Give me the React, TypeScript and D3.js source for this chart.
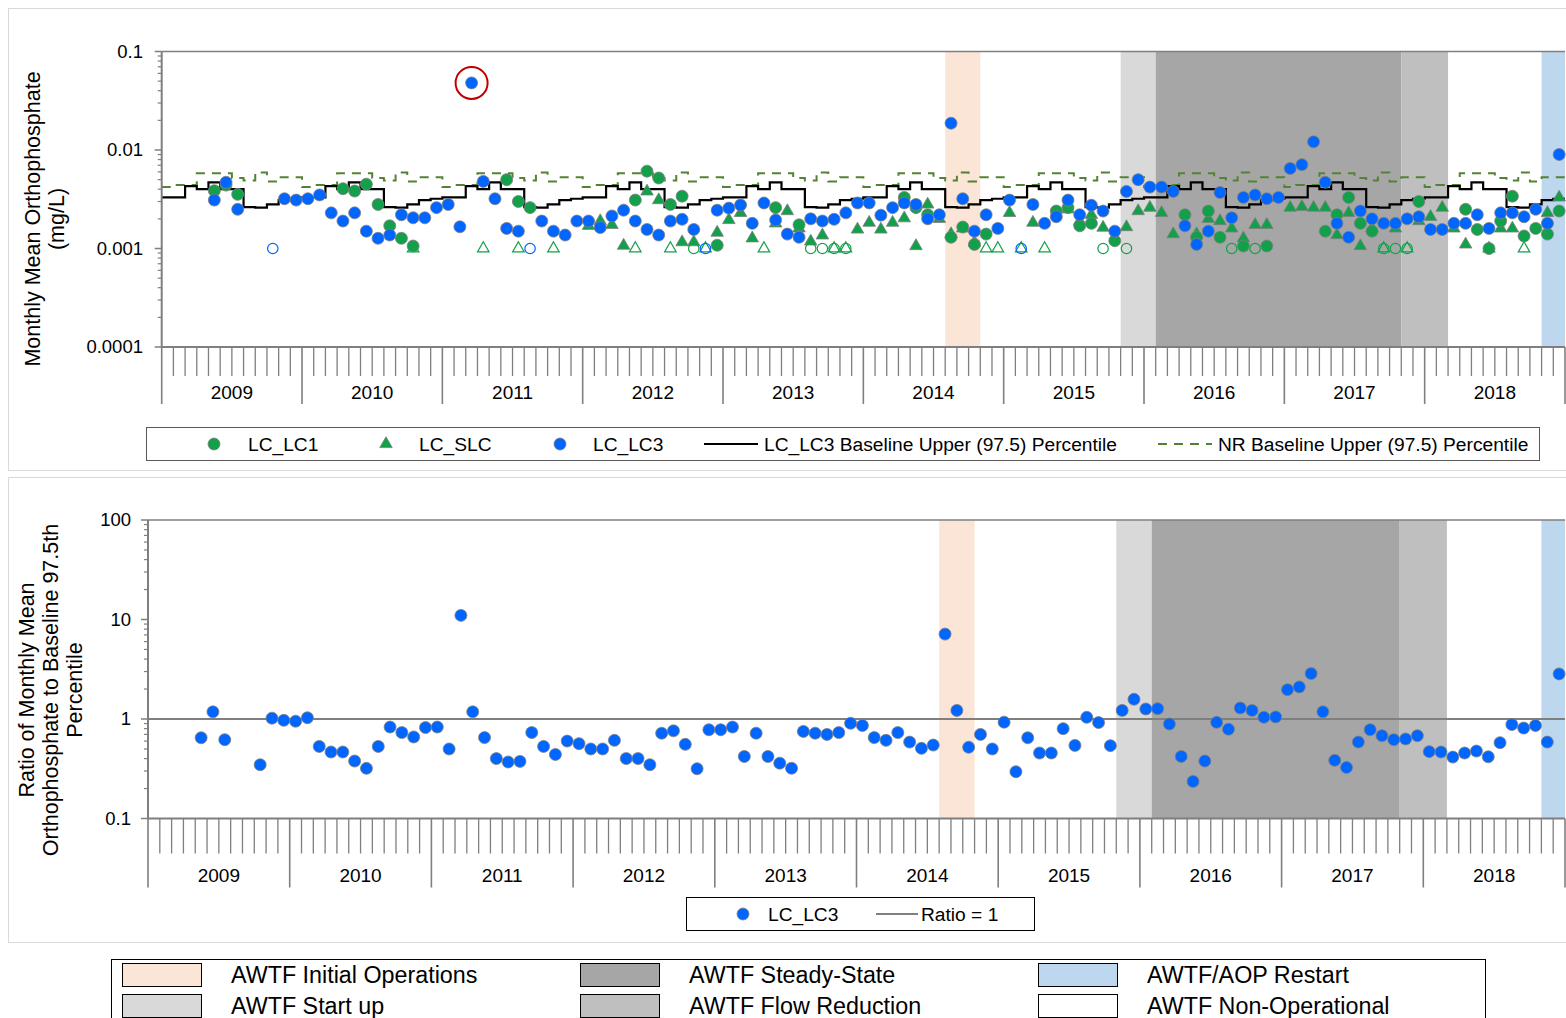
import React from 'react';
import * as d3 from 'd3';

// ---------- DATA ----------
const years = ['2009', '2010', '2011', '2012', '2013', '2014', '2015', '2016', '2017', '2018'];
const monthCount = 120; // Jan 2009 .. Dec 2018

// seasonal (Jan..Dec) baseline upper 97.5 percentiles
const lc3BaselineByMonth = [0.0033, 0.0033, 0.0043, 0.004, 0.0047, 0.004, 0.004, 0.00263, 0.0026, 0.0028, 0.0031, 0.0032];
const nrBaselineByMonth = [0.0042, 0.0044, 0.0044, 0.0058, 0.0058, 0.0058, 0.0052, 0.0049, 0.0059, 0.0048, 0.0053, 0.0053];

// [month index, mg/L]
const lc3Values: [number, number][] = [
  [4, 0.0031], [5, 0.0047], [6, 0.0025], [9, 0.001], [10, 0.0032], [11, 0.0031], [12, 0.0032], [13, 0.0035], [14, 0.0023], [15, 0.0019],
  [16, 0.0023], [17, 0.0015], [18, 0.00127], [19, 0.00137], [20, 0.0022], [21, 0.00205], [22, 0.00205], [23, 0.0026], [24, 0.0028], [25, 0.00166],
  [26, 0.048], [27, 0.0048], [28, 0.0032], [29, 0.0016], [30, 0.0015], [31, 0.001], [32, 0.0019], [33, 0.0015], [34, 0.00137], [35, 0.0019],
  [36, 0.0019], [37, 0.00163], [38, 0.00214], [39, 0.00245], [40, 0.0019], [41, 0.00156], [42, 0.00137], [43, 0.0019], [44, 0.00198], [45, 0.00156],
  [46, 0.001], [47, 0.00245], [48, 0.00257], [49, 0.00277], [50, 0.0018], [51, 0.0029], [52, 0.00195], [53, 0.0014], [54, 0.0013], [55, 0.002],
  [56, 0.0019], [57, 0.00198], [58, 0.0023], [59, 0.0029], [60, 0.0029], [61, 0.00218], [62, 0.0026], [63, 0.0029], [64, 0.0028], [65, 0.002],
  [66, 0.0022], [67, 0.0187], [68, 0.0032], [69, 0.0015], [70, 0.0022], [71, 0.0016], [72, 0.0031], [73, 0.001], [74, 0.0028], [75, 0.0018],
  [76, 0.0021], [77, 0.0031], [78, 0.0022], [79, 0.00275], [80, 0.0024], [81, 0.0015], [82, 0.0038], [83, 0.005], [84, 0.0042], [85, 0.0042],
  [86, 0.0038], [87, 0.0017], [88, 0.0011], [89, 0.0015], [90, 0.0037], [91, 0.00205], [92, 0.0033], [93, 0.0035], [94, 0.0032], [95, 0.0033],
  [96, 0.0065], [97, 0.0071], [98, 0.0121], [99, 0.0047], [100, 0.0018], [101, 0.0013], [102, 0.0024], [103, 0.002], [104, 0.0018], [105, 0.0018],
  [106, 0.002], [107, 0.0021], [108, 0.00156], [109, 0.00156], [110, 0.0018], [111, 0.0018], [112, 0.0022], [113, 0.0016], [114, 0.0023], [115, 0.0023],
  [116, 0.0021], [117, 0.0025], [118, 0.0018], [119, 0.009],
];
const lc3NonDetectMonths = [9, 31, 46, 73];

const lc1Values: [number, number][] = [
  [4, 0.00386], [5, 0.0044], [6, 0.00355], [15, 0.00405], [16, 0.00383], [17, 0.0045], [18, 0.0028], [19, 0.0017], [20, 0.00127], [21, 0.00106],
  [29, 0.005], [30, 0.003], [31, 0.0026], [40, 0.0031], [41, 0.0061], [42, 0.0052], [43, 0.0028], [44, 0.0034], [47, 0.00108], [52, 0.0026],
  [54, 0.00174], [63, 0.0033], [64, 0.0026], [65, 0.0022], [67, 0.0013], [68, 0.00165], [69, 0.0011], [70, 0.0014], [76, 0.0024], [77, 0.0026],
  [78, 0.0017], [79, 0.0018], [81, 0.0012], [87, 0.0022], [88, 0.0013], [89, 0.0024], [90, 0.0013], [92, 0.00106], [94, 0.00106], [99, 0.0015],
  [100, 0.0022], [101, 0.0033], [102, 0.0018], [103, 0.0015], [107, 0.003], [111, 0.0025], [112, 0.00156], [113, 0.001], [114, 0.0019], [115, 0.0034],
  [116, 0.00134], [117, 0.0016], [118, 0.0014], [119, 0.0024],
];
const lc1NonDetectMonths = [45, 55, 56, 57, 58, 80, 82, 91, 93, 104, 105, 106];

const slcValues: [number, number][] = [
  [36, 0.0017], [37, 0.0019], [38, 0.00174], [39, 0.00107], [41, 0.0038], [42, 0.0031], [44, 0.00116], [45, 0.00116], [47, 0.00145], [48, 0.00195],
  [49, 0.0023], [50, 0.00127], [52, 0.0018], [53, 0.0024], [54, 0.0016], [55, 0.00118], [56, 0.00136], [59, 0.00156], [60, 0.00183], [61, 0.00156],
  [62, 0.00183], [63, 0.00203], [64, 0.00106], [65, 0.0028], [66, 0.002], [67, 0.0014], [68, 0.0016], [69, 0.00115], [72, 0.0023], [74, 0.00183],
  [77, 0.0025], [78, 0.0019], [79, 0.0022], [80, 0.00163], [82, 0.00165], [83, 0.0024], [84, 0.0026], [85, 0.0023], [86, 0.0014], [88, 0.0014],
  [89, 0.002], [90, 0.0019], [91, 0.0016], [92, 0.00127], [93, 0.00174], [94, 0.00174], [96, 0.0026], [97, 0.00265], [98, 0.0026], [99, 0.0026],
  [100, 0.00137], [101, 0.0023], [102, 0.00106], [103, 0.0016], [105, 0.0016], [107, 0.0019], [108, 0.0021], [109, 0.0026], [110, 0.0016], [111, 0.0011],
  [114, 0.0016], [115, 0.0016], [118, 0.0023], [119, 0.0033],
];
const slcNonDetectMonths = [21, 27, 30, 33, 40, 43, 46, 51, 57, 58, 70, 71, 73, 75, 104, 106, 113, 116];
const nonDetectLevel = 0.001;

// ratio of LC_LC3 monthly mean to baseline 97.5th percentile
const lc3Ratio: [number, number][] = [
  [4, 0.648], [5, 1.18], [6, 0.62], [9, 0.347], [10, 1.02], [11, 0.97], [12, 0.95], [13, 1.03], [14, 0.53], [15, 0.466],
  [16, 0.466], [17, 0.378], [18, 0.319], [19, 0.53], [20, 0.83], [21, 0.73], [22, 0.66], [23, 0.82], [24, 0.83], [25, 0.5],
  [26, 11.0], [27, 1.18], [28, 0.65], [29, 0.4], [30, 0.37], [31, 0.375], [32, 0.73], [33, 0.53], [34, 0.44], [35, 0.6],
  [36, 0.565], [37, 0.5], [38, 0.5], [39, 0.61], [40, 0.4], [41, 0.4], [42, 0.347], [43, 0.72], [44, 0.76], [45, 0.556],
  [46, 0.316], [47, 0.78], [48, 0.78], [49, 0.83], [50, 0.42], [51, 0.72], [52, 0.42], [53, 0.36], [54, 0.32], [55, 0.75],
  [56, 0.72], [57, 0.7], [58, 0.73], [59, 0.905], [60, 0.86], [61, 0.65], [62, 0.61], [63, 0.73], [64, 0.586], [65, 0.507],
  [66, 0.547], [67, 7.13], [68, 1.22], [69, 0.52], [70, 0.7], [71, 0.5], [72, 0.93], [73, 0.295], [74, 0.648], [75, 0.455],
  [76, 0.455], [77, 0.8], [78, 0.543], [79, 1.04], [80, 0.92], [81, 0.54], [82, 1.22], [83, 1.58], [84, 1.26], [85, 1.27],
  [86, 0.89], [87, 0.42], [88, 0.236], [89, 0.378], [90, 0.925], [91, 0.79], [92, 1.29], [93, 1.22], [94, 1.04], [95, 1.05],
  [96, 1.97], [97, 2.1], [98, 2.86], [99, 1.18], [100, 0.384], [101, 0.326], [102, 0.586], [103, 0.78], [104, 0.68], [105, 0.62],
  [106, 0.63], [107, 0.68], [108, 0.47], [109, 0.466], [110, 0.414], [111, 0.455], [112, 0.476], [113, 0.417], [114, 0.578], [115, 0.88],
  [116, 0.81], [117, 0.86], [118, 0.586], [119, 2.84],
];
const ratioOne = 1;
const circledMonth = 26;

// operational periods [start month, end month)
const periods = [
  { name: 'AWTF Initial Operations', start: 67, end: 70, color: '#fbe5d6' },
  { name: 'AWTF Start up', start: 82, end: 85, color: '#d9d9d9' },
  { name: 'AWTF Steady-State', start: 85, end: 106, color: '#a6a6a6' },
  { name: 'AWTF Flow Reduction', start: 106, end: 110, color: '#bfbfbf' },
  { name: 'AWTF/AOP Restart', start: 118, end: 120, color: '#bdd7ee' },
];
const periodLegend = [
  ['AWTF Initial Operations', '#fbe5d6'], ['AWTF Steady-State', '#a6a6a6'], ['AWTF/AOP Restart', '#bdd7ee'],
  ['AWTF Start up', '#d9d9d9'], ['AWTF Flow Reduction', '#bfbfbf'], ['AWTF Non-Operational', '#ffffff'],
];

const topTicks = [0.1, 0.01, 0.001, 0.0001];
const topTickLabels = ['0.1', '0.01', '0.001', '0.0001'];
const botTicks = [100, 10, 1, 0.1];
const botTickLabels = ['100', '10', '1', '0.1'];

// ---------- STYLE ----------
const BLUE = '#0066ff';
const GREEN = '#13a04a';
const OLIVE = '#548235';
const AXIS = '#7f7f7f';
const FONT = '"Liberation Sans", Arial, sans-serif';

function minorTicks(lo: number, hi: number) {
  const out: number[] = [];
  for (let d = lo; d < hi; d *= 10) for (let k = 2; k <= 9; k++) out.push(d * k);
  return out;
}

function XAxis({ x, y0, tick, yearTick, labelY }: any) {
  const ks = d3.range(0, monthCount + 1);
  return (
    <g>
      <line x1={x(0)} x2={x(monthCount)} y1={y0} y2={y0} stroke={AXIS} strokeWidth={2} />
      {ks.map((k) => (
        <line key={k} x1={x(k)} x2={x(k)} y1={y0} y2={y0 + (k % 12 === 0 ? yearTick : tick)} stroke={AXIS} strokeWidth={k % 12 === 0 ? 1.6 : 1.3} />
      ))}
      {years.map((yr, i) => (
        <text key={yr} x={x(i * 12 + 6)} y={labelY} textAnchor="middle" fontSize={19} fontFamily={FONT} fill="#000">{yr}</text>
      ))}
    </g>
  );
}

function YAxisLog({ y, x0, lo, hi, ticks, labels, labelX }: any) {
  return (
    <g>
      <line x1={x0} x2={x0} y1={y(hi)} y2={y(lo)} stroke={AXIS} strokeWidth={2} />
      {minorTicks(lo, hi).map((v, i) => (
        <line key={i} x1={x0 - 4} x2={x0} y1={y(v)} y2={y(v)} stroke={AXIS} strokeWidth={1.2} />
      ))}
      {ticks.map((v: number, i: number) => (
        <g key={v}>
          <line x1={x0 - 7} x2={x0} y1={y(v)} y2={y(v)} stroke={AXIS} strokeWidth={1.5} />
          <text x={labelX} y={y(v)} dy="0.35em" textAnchor="end" fontSize={18.5} fontFamily={FONT} fill="#000">{labels[i]}</text>
        </g>
      ))}
    </g>
  );
}

export default function App() {
  // top panel scales
  const xT = d3.scaleLinear().domain([0, monthCount]).range([161.7, 1565]);
  const yT = d3.scaleLog().domain([0.0001, 0.1]).range([347, 51.5]);
  // bottom panel scales
  const xB = d3.scaleLinear().domain([0, monthCount]).range([148, 1565]);
  const yB = d3.scaleLog().domain([0.1, 100]).range([818.5, 520]);

  const stepPts = (arr: number[]) => {
    const pts: [number, number][] = d3.range(0, monthCount).map((m) => [m, arr[m % 12]]);
    pts.push([monthCount, arr[(monthCount - 1) % 12]]);
    return pts;
  };
  const stepLine = d3.line<[number, number]>().x((d) => xT(d[0])).y((d) => yT(d[1])).curve(d3.curveStepAfter);

  const tri = d3.symbol().type(d3.symbolTriangle).size(68)() as string;
  const triOpen = d3.symbol().type(d3.symbolTriangle).size(58)() as string;

  const cx = (m: number) => xT(m + 0.5);
  const bx = (m: number) => xB(m + 0.5);
  const LF = 19.2;

  return (
    <svg width={1566} height={1018} style={{ position: 'absolute', left: 0, top: 0, display: 'block', background: '#fff' }}>
      {/* panel frames */}
      <rect x={8.5} y={8.5} width={1580} height={462} fill="none" stroke="#d9d9d9" />
      <rect x={8.5} y={477.5} width={1580} height={465} fill="none" stroke="#d9d9d9" />

      {/* ===== TOP PANEL ===== */}
      {periods.map((p) => (
        <rect key={'t' + p.name} x={xT(p.start)} y={yT(0.1)} width={xT(p.end) - xT(p.start)} height={yT(0.0001) - yT(0.1)} fill={p.color} />
      ))}
      <line x1={xT(0)} x2={xT(monthCount)} y1={yT(0.1)} y2={yT(0.1)} stroke={AXIS} strokeWidth={1.5} />
      <path d={stepLine(stepPts(nrBaselineByMonth)) as string} fill="none" stroke={OLIVE} strokeWidth={2} strokeDasharray="9,7" />
      <path d={stepLine(stepPts(lc3BaselineByMonth)) as string} fill="none" stroke="#000" strokeWidth={2.2} />

      {/* LC_SLC */}
      {slcNonDetectMonths.map((m) => (
        <path key={'sn' + m} d={triOpen} transform={`translate(${cx(m)},${yT(nonDetectLevel)})`} fill="none" stroke={GREEN} strokeWidth={1.2} />
      ))}
      {slcValues.map(([m, v]) => (
        <path key={'s' + m} d={tri} transform={`translate(${cx(m)},${yT(v)})`} fill={GREEN} stroke="#7f7f7f" strokeWidth={0.8} />
      ))}
      {/* LC_LC1 */}
      {lc1NonDetectMonths.map((m) => (
        <circle key={'cn' + m} cx={cx(m)} cy={yT(nonDetectLevel)} r={5.2} fill="none" stroke={GREEN} strokeWidth={1.2} />
      ))}
      {lc1Values.map(([m, v]) => (
        <circle key={'c' + m} cx={cx(m)} cy={yT(v)} r={6} fill={GREEN} stroke="#7f7f7f" strokeWidth={0.8} />
      ))}
      {/* LC_LC3 */}
      {lc3Values.filter(([m]) => !lc3NonDetectMonths.includes(m)).map(([m, v]) => (
        <circle key={'b' + m} cx={cx(m)} cy={yT(v)} r={6} fill={BLUE} stroke="#7f7f7f" strokeWidth={0.8} />
      ))}
      {lc3NonDetectMonths.map((m) => (
        <circle key={'bn' + m} cx={cx(m)} cy={yT(nonDetectLevel)} r={5.2} fill="none" stroke={BLUE} strokeWidth={1.2} />
      ))}
      {lc3Values.filter(([m]) => m === circledMonth).map(([m, v]) => (
        <circle key="ring" cx={cx(m)} cy={yT(v)} r={16} fill="none" stroke="#c00000" strokeWidth={2} />
      ))}

      <YAxisLog y={yT} x0={161.7} lo={0.0001} hi={0.1} ticks={topTicks} labels={topTickLabels} labelX={143} />
      <XAxis x={xT} y0={347} tick={29} yearTick={57} labelY={399} />

      <text transform="translate(40,219) rotate(-90)" textAnchor="middle" fontSize={21.5} fontFamily={FONT}>Monthly Mean Orthophosphate</text>
      <text transform="translate(64,219) rotate(-90)" textAnchor="middle" fontSize={21.5} fontFamily={FONT}>(mg/L)</text>

      {/* top legend */}
      <rect x={146.5} y={427.5} width={1393} height={33} fill="#fff" stroke="#595959" />
      <circle cx={214} cy={444} r={6} fill={GREEN} stroke="#7f7f7f" strokeWidth={0.8} />
      <text x={248} y={444} dy="0.35em" fontSize={LF} fontFamily={FONT}>LC_LC1</text>
      <path d={tri} transform="translate(386,444)" fill={GREEN} stroke="#7f7f7f" strokeWidth={0.8} />
      <text x={419} y={444} dy="0.35em" fontSize={LF} fontFamily={FONT}>LC_SLC</text>
      <circle cx={560} cy={444} r={6} fill={BLUE} stroke="#7f7f7f" strokeWidth={0.8} />
      <text x={593} y={444} dy="0.35em" fontSize={LF} fontFamily={FONT}>LC_LC3</text>
      <line x1={704} x2={758} y1={444} y2={444} stroke="#000" strokeWidth={2.2} />
      <text x={764} y={444} dy="0.35em" fontSize={LF} fontFamily={FONT}>LC_LC3 Baseline Upper (97.5) Percentile</text>
      <line x1={1158} x2={1212} y1={444} y2={444} stroke={OLIVE} strokeWidth={2} strokeDasharray="9,7" />
      <text x={1218} y={444} dy="0.35em" fontSize={LF} fontFamily={FONT}>NR Baseline Upper (97.5) Percentile</text>

      {/* ===== BOTTOM PANEL ===== */}
      {periods.map((p) => (
        <rect key={'b' + p.name} x={xB(p.start)} y={yB(100)} width={xB(p.end) - xB(p.start)} height={yB(0.1) - yB(100)} fill={p.color} />
      ))}
      <line x1={xB(0)} x2={xB(monthCount)} y1={yB(100)} y2={yB(100)} stroke={AXIS} strokeWidth={1.5} />
      <line x1={xB(0)} x2={xB(monthCount)} y1={yB(ratioOne)} y2={yB(ratioOne)} stroke="#7f7f7f" strokeWidth={2} />
      {lc3Ratio.map(([m, r]) => (
        <circle key={'r' + m} cx={bx(m)} cy={yB(r)} r={6} fill={BLUE} stroke="#7f7f7f" strokeWidth={0.8} />
      ))}
      <YAxisLog y={yB} x0={148} lo={0.1} hi={100} ticks={botTicks} labels={botTickLabels} labelX={131} />
      <XAxis x={xB} y0={818.5} tick={35} yearTick={69} labelY={882} />

      <text transform="translate(34,690) rotate(-90)" textAnchor="middle" fontSize={21.5} fontFamily={FONT}>Ratio of Monthly Mean</text>
      <text transform="translate(58,690) rotate(-90)" textAnchor="middle" fontSize={21.5} fontFamily={FONT}>Orthophosphate to Baseline 97.5th</text>
      <text transform="translate(82,690) rotate(-90)" textAnchor="middle" fontSize={21.5} fontFamily={FONT}>Percentile</text>

      <rect x={686.5} y={897.5} width={348} height={33} fill="#fff" stroke="#000" />
      <circle cx={743} cy={914} r={6} fill={BLUE} stroke="#7f7f7f" strokeWidth={0.8} />
      <text x={768} y={914} dy="0.35em" fontSize={LF} fontFamily={FONT}>LC_LC3</text>
      <line x1={876} x2={918} y1={914} y2={914} stroke="#7f7f7f" strokeWidth={2} />
      <text x={921} y={914} dy="0.35em" fontSize={LF} fontFamily={FONT}>Ratio = 1</text>

      {/* period legend */}
      <rect x={111.5} y={959.5} width={1374} height={70} fill="#fff" stroke="#000" />
      {periodLegend.map(([name, color], i) => {
        const col = i % 3;
        const row = Math.floor(i / 3);
        const sx = 122 + col * 458;
        const sy = 963 + row * 31;
        return (
          <g key={name}>
            <rect x={sx + 0.5} y={sy + 0.5} width={79} height={23} fill={color} stroke="#000" />
            <text x={sx + 109} y={sy + 12} dy="0.35em" fontSize={23.3} fontFamily={FONT}>{name}</text>
          </g>
        );
      })}
    </svg>
  );
}
